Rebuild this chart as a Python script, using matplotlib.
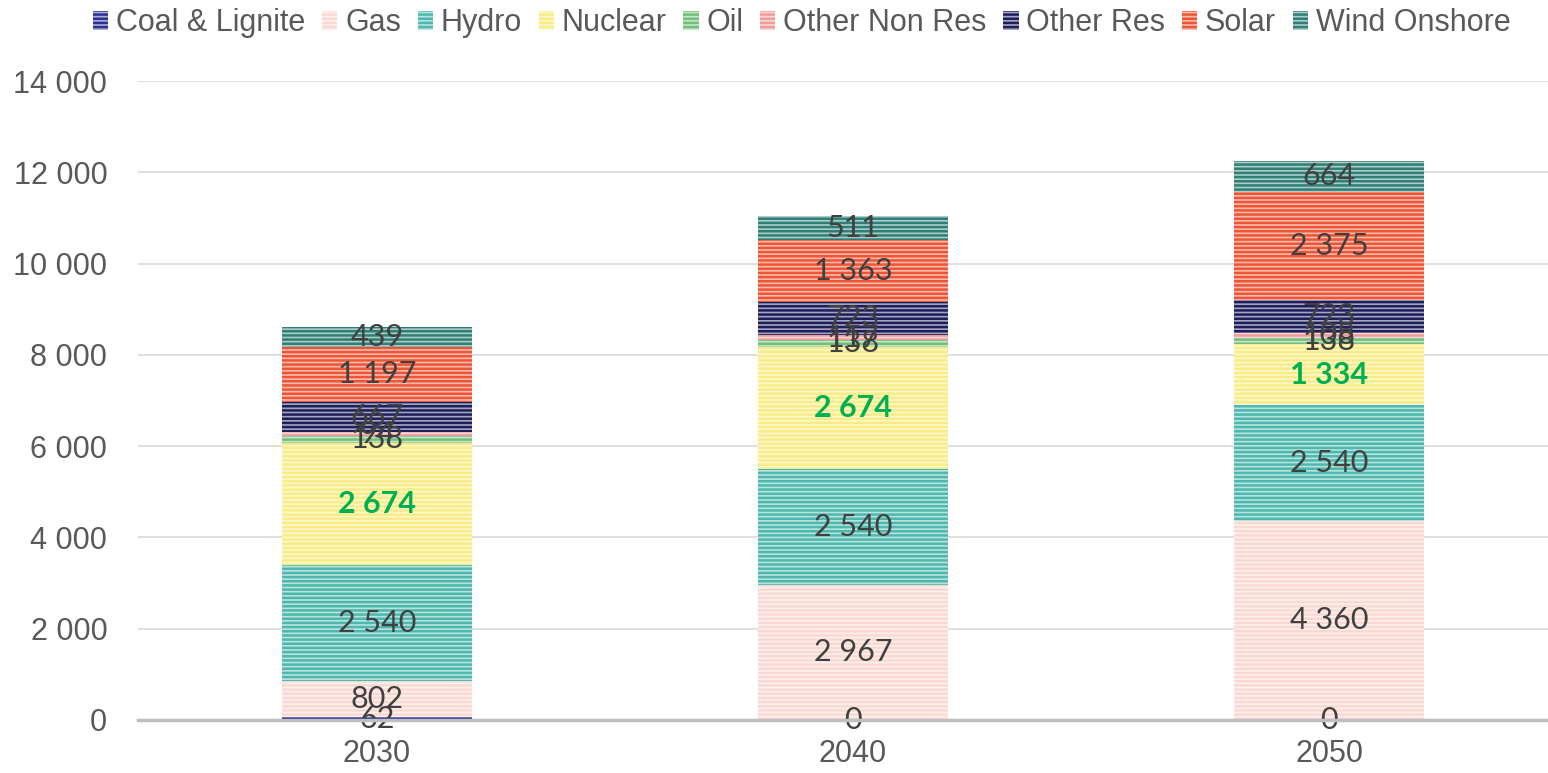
import numpy as np
import matplotlib
matplotlib.use("Agg")
import matplotlib.pyplot as plt
from matplotlib.colors import to_rgb
from matplotlib.patches import Patch

years = ["2030", "2040", "2050"]
techs = ["Coal & Lignite", "Gas", "Hydro", "Nuclear", "Oil",
         "Other Non Res", "Other Res", "Solar", "Wind Onshore"]

coal = [62, 0, 0]
gas = [802, 2967, 4360]
hydro = [2540, 2540, 2540]
nuclear = [2674, 2674, 1334]
oil = [138, 138, 138]
other_non_res = [94, 117, 108]
other_res = [667, 723, 723]
solar = [1197, 1363, 2375]
wind_onshore = [439, 511, 664]

series = [coal, gas, hydro, nuclear, oil, other_non_res, other_res, solar, wind_onshore]

colors = ["#2E3192", "#FBD9D3", "#4DB8AD", "#F8EC85", "#74BF78",
          "#EF9A9A", "#1E1E5C", "#EF5434", "#2F7F76"]


def lighten(c, f=0.6):
    r, g, b = to_rgb(c)
    return (r + (1 - r) * f, g + (1 - g) * f, b + (1 - b) * f)


plt.rcParams["hatch.linewidth"] = 1.8

fig = plt.figure(figsize=(15.48, 7.73), dpi=100)
ax = fig.add_axes([0.0891, 0.0686, 0.9109, 0.8266])

x = np.arange(len(years))
width = 0.4
bottom = np.zeros(len(years))
for name, vals, col in zip(techs, series, colors):
    vals = np.array(vals, dtype=float)
    ax.bar(x, vals, width, bottom=bottom, facecolor=lighten(col), edgecolor=col,
           hatch="----", linewidth=0, label=name, zorder=2)
    for i, v in enumerate(vals):
        txt = f"{int(v):,}".replace(",", " ")
        if name == "Nuclear" and v > 0:
            ax.text(x[i], bottom[i] + v / 2, txt, ha="center", va="center",
                    fontsize=22, color="#00B050", fontweight="bold",
                    family="Lato", zorder=3)
        else:
            ax.text(x[i], bottom[i] + v / 2, txt, ha="center", va="center",
                    fontsize=22, color="#404040", family="Lato", zorder=3)
    bottom += vals

ax.set_ylim(0, 14000)
ax.set_xlim(-0.502, 2.46)
ax.set_yticks(np.arange(0, 14001, 2000))
ax.set_yticklabels([f"{v:,}".replace(",", " ") for v in range(0, 14001, 2000)])
ax.set_xticks(x)
ax.set_xticklabels(years)
ax.tick_params(length=0, labelsize=22, labelcolor="#595959")
for lab in ax.get_xticklabels() + ax.get_yticklabels():
    lab.set_family("Liberation Sans")
ax.yaxis.set_tick_params(pad=22)
ax.xaxis.set_tick_params(pad=14)
ax.grid(axis="y", color="#D9D9D9", linewidth=1.2, zorder=0)
ax.set_axisbelow(True)
for s in ["top", "right", "left"]:
    ax.spines[s].set_visible(False)
ax.spines["bottom"].set_color("#BFBFBF")
ax.spines["bottom"].set_linewidth(2.5)
ax.spines["bottom"].set_zorder(4)

handles = [Patch(facecolor=lighten(c), edgecolor=c, hatch="----", linewidth=0)
           for c in colors]
leg = fig.legend(handles, techs, loc="center", bbox_to_anchor=(0.518, 0.97), ncol=9,
                 frameon=False, handlelength=0.5, handleheight=0.55, handletextpad=0.25,
                 columnspacing=0.55, prop={"family": "Liberation Sans", "size": 22})
for t in leg.get_texts():
    t.set_color("#595959")

fig.savefig("out.png", dpi=100)
